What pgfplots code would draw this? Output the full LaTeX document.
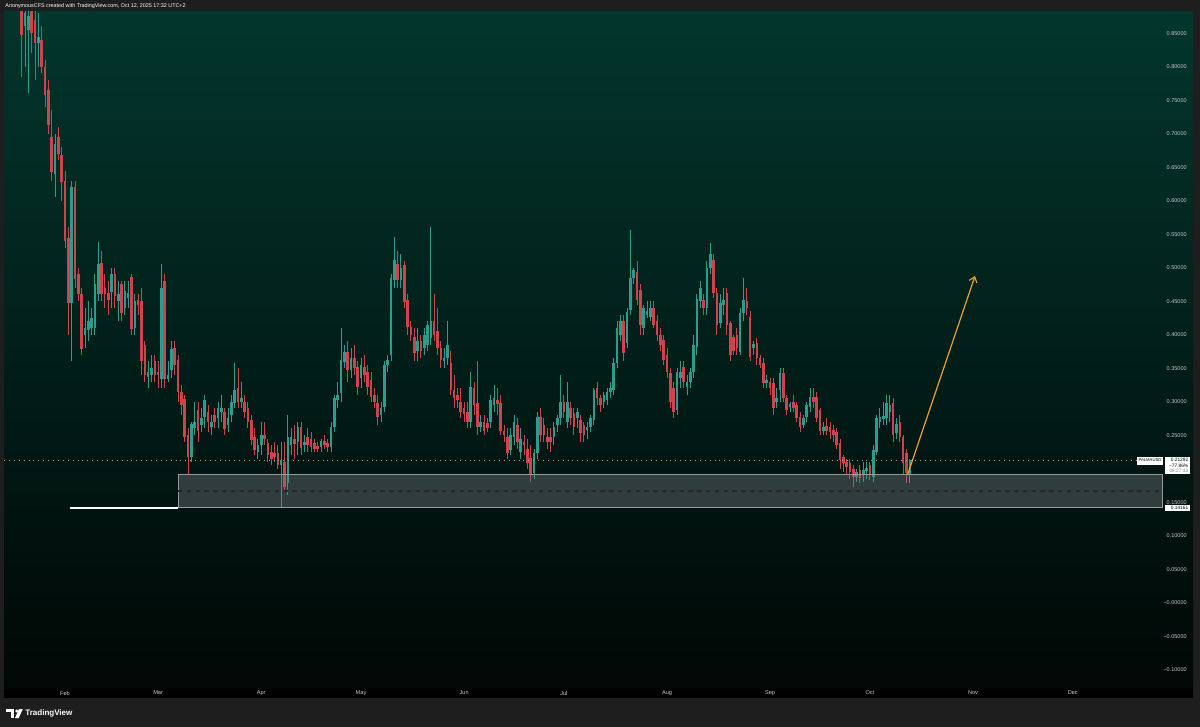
\documentclass[border=0pt]{standalone}
\usepackage{pgfplots}
\pgfplotsset{compat=1.18}
\usepackage{pgfplotstable}
\usepackage{fontspec}
\setmainfont{Liberation Sans}
\usetikzlibrary{arrows.meta}
\definecolor{upc}{HTML}{2A9D8F}
\definecolor{dnc}{HTML}{D0424E}
\definecolor{bgtop}{HTML}{02362D}
\definecolor{bgbot}{HTML}{010705}
\definecolor{chrome}{HTML}{1E1E1E}
\definecolor{lbl}{HTML}{C8CBD2}
\definecolor{arr}{HTML}{F0A030}
\definecolor{pline}{HTML}{C0A07A}

\pgfplotstableread{
d bl bh wl wh
19 0.86 0.88 0.80 0.92
20 0.855 0.875 0.76 0.90
23 0.835 0.845 0.80 0.88
28 0.64 0.685 0.605 0.70
33 0.448 0.62 0.36 0.63
37 0.40 0.41 0.38 0.44
38 0.407 0.42 0.39 0.45
39 0.41 0.425 0.40 0.44
40 0.41 0.475 0.40 0.49
41 0.46 0.505 0.45 0.538
45 0.464 0.49 0.44 0.50
47 0.45 0.46 0.42 0.48
49 0.44 0.465 0.43 0.48
50 0.455 0.462 0.44 0.48
52 0.41 0.45 0.40 0.46
56 0.337 0.344 0.32 0.36
57 0.34 0.35 0.33 0.37
60 0.334 0.47 0.32 0.505
62 0.334 0.34 0.33 0.36
63 0.347 0.378 0.335 0.39
69 0.217 0.266 0.21 0.27
70 0.26 0.27 0.25 0.30
72 0.265 0.275 0.255 0.29
73 0.277 0.302 0.26 0.31
75 0.262 0.27 0.25 0.28
77 0.275 0.29 0.26 0.30
78 0.285 0.29 0.27 0.31
80 0.265 0.275 0.255 0.29
81 0.28 0.30 0.27 0.31
82 0.298 0.317 0.29 0.357
84 0.30 0.305 0.29 0.33
89 0.225 0.235 0.215 0.245
90 0.235 0.25 0.22 0.27
96 0.205 0.213 0.141 0.24
98 0.179 0.247 0.16 0.28
99 0.235 0.247 0.22 0.26
101 0.24 0.262 0.22 0.27
103 0.235 0.24 0.225 0.25
108 0.233 0.241 0.225 0.245
111 0.232 0.262 0.225 0.27
112 0.262 0.305 0.255 0.31
113 0.302 0.31 0.29 0.33
114 0.313 0.362 0.30 0.41
115 0.359 0.374 0.35 0.385
117 0.347 0.365 0.335 0.38
120 0.335 0.355 0.32 0.365
126 0.28 0.29 0.27 0.30
127 0.292 0.355 0.285 0.36
128 0.355 0.362 0.345 0.37
129 0.37 0.484 0.36 0.49
130 0.482 0.511 0.47 0.546
132 0.482 0.50 0.47 0.52
137 0.375 0.39 0.36 0.41
139 0.38 0.40 0.37 0.41
140 0.385 0.414 0.375 0.42
141 0.395 0.42 0.385 0.561
145 0.36 0.365 0.35 0.38
146 0.365 0.385 0.355 0.42
153 0.27 0.322 0.26 0.345
156 0.262 0.27 0.255 0.28
159 0.27 0.303 0.26 0.31
160 0.295 0.305 0.285 0.325
165 0.228 0.25 0.22 0.26
166 0.247 0.27 0.235 0.28
168 0.225 0.245 0.215 0.26
172 0.193 0.223 0.185 0.23
173 0.223 0.277 0.215 0.285
178 0.247 0.262 0.235 0.27
179 0.265 0.275 0.255 0.28
180 0.275 0.30 0.265 0.34
182 0.27 0.30 0.26 0.33
185 0.275 0.285 0.26 0.29
188 0.258 0.262 0.245 0.27
189 0.262 0.275 0.255 0.28
190 0.272 0.317 0.265 0.32
193 0.30 0.31 0.29 0.315
194 0.302 0.315 0.295 0.32
195 0.315 0.32 0.305 0.33
196 0.317 0.357 0.31 0.365
197 0.357 0.41 0.35 0.42
198 0.40 0.42 0.39 0.43
200 0.387 0.434 0.38 0.44
201 0.437 0.484 0.43 0.556
202 0.484 0.496 0.475 0.50
205 0.41 0.44 0.40 0.445
206 0.43 0.435 0.425 0.45
207 0.427 0.44 0.42 0.45
215 0.287 0.344 0.28 0.35
216 0.335 0.345 0.32 0.36
218 0.322 0.33 0.31 0.34
219 0.33 0.345 0.32 0.35
220 0.344 0.384 0.335 0.40
221 0.381 0.454 0.37 0.46
222 0.45 0.47 0.44 0.48
224 0.44 0.50 0.43 0.51
225 0.50 0.521 0.49 0.537
228 0.417 0.448 0.41 0.46
229 0.445 0.452 0.43 0.47
234 0.374 0.432 0.37 0.44
235 0.432 0.452 0.42 0.485
238 0.38 0.386 0.37 0.39
242 0.328 0.332 0.32 0.34
245 0.30 0.305 0.29 0.32
246 0.317 0.343 0.30 0.35
249 0.292 0.297 0.285 0.30
253 0.265 0.275 0.26 0.28
254 0.277 0.295 0.27 0.30
255 0.292 0.307 0.285 0.32
259 0.257 0.262 0.25 0.27
269 0.188 0.195 0.18 0.20
271 0.19 0.198 0.18 0.21
272 0.197 0.201 0.185 0.21
274 0.188 0.228 0.18 0.235
275 0.225 0.275 0.22 0.28
276 0.27 0.277 0.26 0.29
277 0.274 0.279 0.265 0.30
278 0.275 0.298 0.265 0.31
279 0.285 0.295 0.27 0.31
281 0.253 0.267 0.245 0.275
285 0.19 0.2129 0.178 0.215
}\upData

\pgfplotstableread{
d bl bh wl wh
18 0.847 0.90 0.784 0.92
21 0.85 0.89 0.82 0.91
22 0.835 0.87 0.78 0.89
24 0.80 0.84 0.79 0.86
25 0.757 0.80 0.74 0.81
26 0.713 0.765 0.70 0.78
27 0.643 0.695 0.63 0.736
29 0.67 0.695 0.66 0.71
30 0.628 0.668 0.60 0.68
31 0.54 0.63 0.53 0.645
32 0.448 0.545 0.40 0.56
34 0.483 0.62 0.47 0.63
35 0.46 0.49 0.45 0.50
36 0.378 0.46 0.37 0.47
42 0.46 0.507 0.45 0.525
43 0.46 0.47 0.44 0.49
44 0.452 0.462 0.43 0.48
46 0.457 0.49 0.44 0.50
48 0.433 0.475 0.42 0.48
51 0.408 0.486 0.40 0.49
53 0.445 0.452 0.43 0.46
54 0.36 0.45 0.34 0.47
55 0.34 0.385 0.33 0.39
58 0.34 0.36 0.33 0.37
59 0.34 0.345 0.32 0.36
61 0.334 0.48 0.32 0.49
64 0.355 0.38 0.34 0.39
65 0.315 0.362 0.30 0.37
66 0.295 0.315 0.28 0.325
67 0.247 0.304 0.24 0.31
68 0.217 0.25 0.19 0.26
71 0.257 0.287 0.24 0.30
74 0.27 0.285 0.255 0.295
76 0.27 0.28 0.26 0.29
79 0.259 0.284 0.25 0.29
83 0.30 0.32 0.29 0.35
85 0.285 0.30 0.275 0.31
86 0.27 0.29 0.26 0.30
87 0.243 0.272 0.235 0.28
88 0.228 0.247 0.22 0.26
91 0.245 0.25 0.235 0.27
92 0.22 0.238 0.21 0.245
93 0.215 0.225 0.205 0.235
94 0.218 0.223 0.21 0.24
95 0.205 0.223 0.20 0.235
97 0.173 0.21 0.165 0.24
100 0.237 0.245 0.215 0.265
102 0.231 0.262 0.22 0.27
104 0.236 0.248 0.225 0.26
105 0.232 0.245 0.225 0.255
106 0.23 0.238 0.225 0.245
107 0.229 0.234 0.225 0.24
109 0.236 0.241 0.23 0.25
110 0.232 0.238 0.225 0.245
116 0.347 0.374 0.33 0.39
118 0.35 0.365 0.34 0.385
119 0.322 0.352 0.31 0.36
121 0.34 0.352 0.33 0.37
122 0.322 0.345 0.31 0.355
123 0.307 0.332 0.30 0.345
124 0.30 0.31 0.29 0.32
125 0.277 0.298 0.265 0.31
131 0.482 0.505 0.47 0.525
133 0.449 0.504 0.44 0.51
134 0.412 0.452 0.40 0.46
135 0.40 0.412 0.39 0.42
136 0.372 0.396 0.36 0.41
138 0.375 0.39 0.365 0.40
142 0.40 0.42 0.39 0.46
143 0.38 0.405 0.37 0.44
144 0.362 0.38 0.35 0.39
147 0.317 0.357 0.31 0.375
148 0.305 0.317 0.29 0.34
149 0.302 0.31 0.29 0.32
150 0.285 0.30 0.275 0.32
151 0.282 0.29 0.27 0.30
152 0.27 0.285 0.26 0.30
154 0.295 0.32 0.28 0.33
155 0.262 0.298 0.25 0.36
157 0.257 0.27 0.25 0.28
158 0.26 0.268 0.255 0.275
161 0.297 0.302 0.28 0.32
162 0.257 0.298 0.25 0.31
163 0.25 0.257 0.24 0.265
164 0.223 0.247 0.215 0.26
167 0.24 0.265 0.23 0.275
169 0.235 0.24 0.22 0.25
170 0.208 0.23 0.20 0.245
171 0.19 0.216 0.18 0.235
174 0.25 0.277 0.24 0.29
175 0.25 0.265 0.24 0.275
176 0.24 0.247 0.23 0.26
177 0.24 0.247 0.225 0.26
181 0.285 0.30 0.275 0.31
183 0.275 0.29 0.265 0.30
184 0.262 0.283 0.25 0.29
186 0.253 0.272 0.24 0.28
187 0.25 0.265 0.24 0.27
191 0.305 0.32 0.295 0.33
192 0.295 0.305 0.285 0.31
199 0.372 0.42 0.36 0.43
203 0.452 0.494 0.445 0.51
204 0.414 0.467 0.40 0.475
208 0.415 0.44 0.41 0.45
209 0.40 0.42 0.39 0.43
210 0.385 0.40 0.375 0.41
211 0.362 0.392 0.355 0.40
212 0.344 0.37 0.335 0.38
213 0.30 0.343 0.29 0.35
214 0.285 0.32 0.275 0.33
217 0.33 0.352 0.32 0.36
223 0.44 0.452 0.43 0.46
226 0.462 0.511 0.455 0.52
227 0.414 0.462 0.40 0.47
230 0.414 0.462 0.40 0.47
231 0.37 0.417 0.36 0.42
232 0.375 0.396 0.37 0.40
233 0.38 0.40 0.37 0.41
236 0.44 0.45 0.43 0.47
237 0.366 0.426 0.36 0.435
239 0.365 0.387 0.355 0.395
240 0.355 0.365 0.35 0.37
241 0.328 0.358 0.32 0.365
243 0.32 0.33 0.31 0.335
244 0.29 0.328 0.28 0.335
247 0.305 0.343 0.30 0.35
248 0.288 0.305 0.28 0.31
250 0.29 0.30 0.285 0.31
251 0.275 0.295 0.27 0.30
252 0.262 0.277 0.255 0.285
256 0.30 0.307 0.29 0.32
257 0.275 0.307 0.27 0.315
258 0.257 0.287 0.25 0.29
260 0.257 0.263 0.25 0.275
261 0.255 0.262 0.245 0.27
262 0.25 0.258 0.24 0.265
263 0.235 0.255 0.23 0.26
264 0.213 0.238 0.20 0.245
265 0.208 0.217 0.195 0.22
266 0.203 0.21 0.19 0.215
267 0.195 0.208 0.185 0.215
268 0.188 0.20 0.172 0.205
270 0.186 0.198 0.178 0.205
273 0.19 0.205 0.183 0.21
280 0.25 0.298 0.24 0.305
282 0.247 0.27 0.24 0.28
283 0.208 0.247 0.19 0.25
284 0.193 0.223 0.178 0.23
}\dnData

\begin{document}
\begin{tikzpicture}
\begin{scope}[x=0.5pt,y=-0.5pt]
\useasboundingbox (0,0) rectangle (1200,727);
\fill[chrome] (0,0) rectangle (1200,727);
\fill[black] (4,688) rectangle (1193,698);
\node[anchor=west, text=white, font=\fontsize{2.7}{3}\selectfont, inner sep=0pt] at (5,6) {AnonymousCFS created with TradingView.com, Oct 12, 2025 17:32 UTC+2};
\end{scope}

\begin{axis}[
  at={(2pt,-344pt)}, anchor=south west,
  scale only axis, width=594.5pt, height=338pt,
  xmin=12.66, xmax=370.15, ymin=-0.1273, ymax=0.8816,
  axis background/.style={shade, top color=bgtop, bottom color=bgbot},
  axis line style={draw=none},
  major tick length=0pt,
  xtick={31,59,90,120,151,181,212,243,273,304,334},
  xticklabels={Feb,Mar,Apr,May,Jun,Jul,Aug,Sep,Oct,Nov,Dec},
  xticklabel style={anchor=center, inner sep=0pt, yshift=-2.5pt, font=\fontsize{2.8}{3.2}\selectfont, text=lbl},
  ytick={-0.1,-0.05,0,0.05,0.1,0.15,0.2,0.25,0.3,0.35,0.4,0.45,0.5,0.55,0.6,0.65,0.7,0.75,0.8,0.85},
  yticklabels={−0.10000,−0.05000,−0.00000,0.05000,0.10000,0.15000,0.20000,0.25000,0.30000,0.35000,0.40000,0.45000,0.50000,0.55000,0.60000,0.65000,0.70000,0.75000,0.80000,0.85000},
  yticklabel pos=right,
  yticklabel style={anchor=east, inner sep=0pt, xshift=-3pt, font=\fontsize{2.75}{3.1}\selectfont, text=lbl},
]
% wicks
\addplot[draw=none, mark=none, forget plot, error bars/.cd, y dir=both, y explicit, error mark=none, error bar style={draw=upc, line width=0.45pt}]
  table[x=d, y expr={(\thisrow{wl}+\thisrow{wh})/2}, y error expr={(\thisrow{wh}-\thisrow{wl})/2}] {\upData};
\addplot[draw=none, mark=none, forget plot, error bars/.cd, y dir=both, y explicit, error mark=none, error bar style={draw=dnc, line width=0.45pt}]
  table[x=d, y expr={(\thisrow{wl}+\thisrow{wh})/2}, y error expr={(\thisrow{wh}-\thisrow{wl})/2}] {\dnData};
% bodies
\addplot[draw=none, mark=none, forget plot, error bars/.cd, y dir=both, y explicit, error mark=none, error bar style={draw=upc, line width=1.3pt}]
  table[x=d, y expr={(\thisrow{bl}+\thisrow{bh})/2}, y error expr={(\thisrow{bh}-\thisrow{bl})/2}] {\upData};
\addplot[draw=none, mark=none, forget plot, error bars/.cd, y dir=both, y explicit, error mark=none, error bar style={draw=dnc, line width=1.3pt}]
  table[x=d, y expr={(\thisrow{bl}+\thisrow{bh})/2}, y error expr={(\thisrow{bh}-\thisrow{bl})/2}] {\dnData};

% last price dotted line
\draw[pline, dotted, line width=0.45pt] (axis cs:12.66,0.21292) -- (axis cs:353,0.21292);
% support zone
\fill[fill={rgb,255:red,120;green,123;blue,128}, fill opacity=0.4] (axis cs:65,0.14161) rectangle (axis cs:361.1,0.1916);
\draw[color={rgb,255:red,150;green,153;blue,158}, line width=0.5pt] (axis cs:65,0.14161) rectangle (axis cs:361.1,0.1916);
\draw[color=black!85, line width=0.65pt, dash pattern=on 2.2pt off 2.2pt] (axis cs:65,0.1666) -- (axis cs:361.1,0.1666);
\draw[white, line width=0.8pt] (axis cs:32.5,0.14161) -- (axis cs:65,0.14161);
% arrow
\draw[arr, line width=0.6pt, -{Straight Barb[length=2.5pt,width=4pt]}] (axis cs:284.3,0.1906) -- (axis cs:304.6,0.4876);
\end{axis}

\begin{scope}[x=0.5pt,y=-0.5pt]
\node[anchor=east, fill=white, text=black, font=\fontsize{2.1}{2.4}\selectfont, inner sep=0.6pt, minimum height=4pt] at (1163,460.5) {PALMAUSD};
\node[anchor=north east, fill=white, text=black, align=right, font=\fontsize{2.4}{2.75}\selectfont, inner sep=0.7pt, text width=11pt] at (1190,456.5) {0.21292\\−77.86\%\\\textcolor{gray}{08:27:33}};
\node[anchor=east, fill=white, text=black, font=\fontsize{2.4}{2.75}\selectfont, inner sep=0.7pt, text width=11pt, align=right] at (1190,508) {0.14161};
% footer logo
\fill[white] (6,709) rectangle (14,712);
\fill[white] (10.5,709) rectangle (14,718);
\fill[white] (16.8,711) circle (1.6);
\fill[white] (15,718) -- (19,709) -- (22.8,709) -- (18.8,718) -- cycle;
\node[anchor=west, text=white, font=\bfseries\fontsize{4}{4.6}\selectfont, inner sep=0pt] at (25,713.5) {TradingView};
\end{scope}
\end{tikzpicture}
\end{document}
